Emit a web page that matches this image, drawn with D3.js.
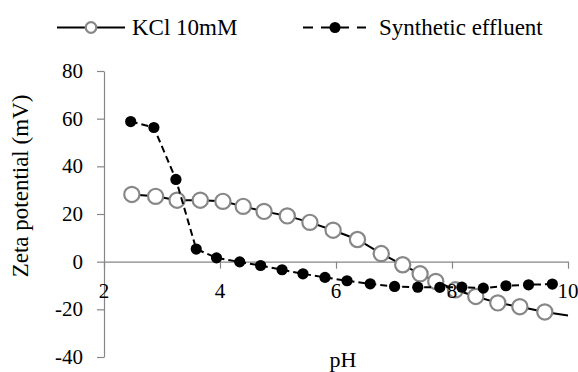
<!DOCTYPE html>
<html><head><meta charset="utf-8">
<script src="https://cdn.jsdelivr.net/npm/d3@7"></script>
<style>body{margin:0;background:#fff}svg{display:block}</style>
</head><body>
<script>
const kclPH   = [2.48,2.89,3.26,3.66,4.05,4.40,4.76,5.16,5.55,5.95,6.37,6.78,7.15,7.45,7.72,8.06,8.41,8.79,9.17,9.60,10.0];
const kclZeta = [28.2,27.4,25.8,25.8,25.3,23.2,21.1,19.2,16.5,13.2,9.3,3.4,-1.3,-5.1,-8.3,-11.8,-14.6,-17.3,-18.9,-21.1,-22.6];
const effPH   = [2.46,2.86,3.24,3.59,3.94,4.34,4.70,5.07,5.43,5.81,6.19,6.59,7.01,7.41,7.79,8.17,8.54,8.93,9.32,9.73];
const effZeta = [58.8,56.3,34.5,5.3,1.6,-0.1,-1.6,-3.4,-5.1,-6.6,-8.0,-9.3,-10.4,-10.7,-10.8,-10.7,-11.1,-10.1,-9.7,-9.4];
const xTicks = [2,4,6,8,10];
const yTicks = [-40,-20,0,20,40,60,80];
const seriesNames = ["KCl 10mM","Synthetic effluent"];

const FONT='"Liberation Serif"';
const W=578,H=372;
const svg=d3.select("body").append("svg").attr("width",W).attr("height",H);
const x=d3.scaleLinear().domain([2,10]).range([104,568]);
const y=d3.scaleLinear().domain([-40,80]).range([357,71]);
const axisCol="#868686";
const fmt=d=>String(d);

// y axis
const ya=svg.append("g").attr("transform",`translate(${x(2)},0)`)
  .call(d3.axisLeft(y).tickValues(yTicks).tickSize(7).tickSizeOuter(0).tickFormat(fmt));
ya.select(".domain").attr("stroke",axisCol).attr("stroke-width",1.2);
ya.selectAll(".tick line").attr("stroke",axisCol).attr("stroke-width",1.2);
ya.selectAll("text").remove();

// x axis at y=0
const xa=svg.append("g").attr("transform",`translate(0,${y(0)})`)
  .call(d3.axisBottom(x).tickValues(xTicks).tickSize(7).tickSizeOuter(0).tickFormat(fmt));
xa.select(".domain").attr("stroke",axisCol).attr("stroke-width",1.2);
xa.selectAll(".tick line").attr("stroke",axisCol).attr("stroke-width",1.2);
xa.selectAll("text").remove();

const kcl=kclPH.map((p,i)=>({p,z:kclZeta[i]}));
const eff=effPH.map((p,i)=>({p,z:effZeta[i]}));
const line=d3.line().x(d=>x(d.p)).y(d=>y(d.z));

svg.append("path").datum(kcl).attr("d",line).attr("fill","none").attr("stroke","#000").attr("stroke-width",2);
svg.selectAll(".kc").data(kcl.filter(d=>d.p<10)).enter().append("circle")
  .attr("cx",d=>x(d.p)).attr("cy",d=>y(d.z)).attr("r",7.6)
  .attr("fill","#fff").attr("stroke","#878787").attr("stroke-width",2.2);

svg.append("path").datum(eff).attr("d",line).attr("fill","none").attr("stroke","#000").attr("stroke-width",2).attr("stroke-dasharray","7,4");
svg.selectAll(".ef").data(eff).enter().append("circle")
  .attr("cx",d=>x(d.p)).attr("cy",d=>y(d.z)).attr("r",5.6).attr("fill","#000");

// tick labels
svg.append("g").selectAll("text").data(yTicks).enter().append("text")
  .attr("x",83).attr("y",d=>y(d)+7).attr("text-anchor","end")
  .style("font-family",FONT).style("font-size","21px").text(fmt);
svg.append("g").selectAll("text").data(xTicks).enter().append("text")
  .attr("x",d=>x(d)).attr("y",298).attr("text-anchor","middle")
  .style("font-family",FONT).style("font-size","21px").text(fmt);

// axis titles
svg.append("text").attr("x",343).attr("y",367).attr("text-anchor","middle")
  .style("font-family",FONT).style("font-size","22px").text("pH");
svg.append("text").attr("transform","translate(28,186) rotate(-90)").attr("text-anchor","middle")
  .style("font-family",FONT).style("font-size","23px").text("Zeta potential (mV)");

// legend
const lg=svg.append("g");
lg.append("line").attr("x1",57).attr("x2",125).attr("y1",27.5).attr("y2",27.5).attr("stroke","#000").attr("stroke-width",2);
lg.append("circle").attr("cx",91).attr("cy",27.5).attr("r",5.3).attr("fill","#fff").attr("stroke","#878787").attr("stroke-width",2.2);
lg.append("text").attr("x",132).attr("y",35).style("font-family",FONT).style("font-size","23px").text(seriesNames[0]);
lg.append("line").attr("x1",303).attr("x2",366).attr("y1",27.5).attr("y2",27.5).attr("stroke","#000").attr("stroke-width",2).attr("stroke-dasharray","10,8");
lg.append("circle").attr("cx",335).attr("cy",27.5).attr("r",5.5).attr("fill","#000");
lg.append("text").attr("x",379).attr("y",35).style("font-family",FONT).style("font-size","23px").text(seriesNames[1]);
</script>
</body></html>
